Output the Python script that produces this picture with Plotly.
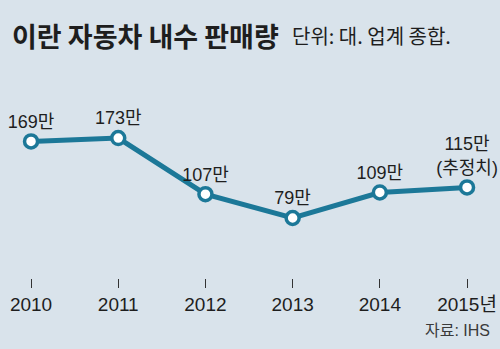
import plotly.graph_objects as go

# 이란 자동차 내수 판매량 (단위: 만 대)
years = [2010, 2011, 2012, 2013, 2014, 2015]
year_labels = ["2010", "2011", "2012", "2013", "2014", "2015년"]
sales = [169, 173, 107, 79, 109, 115]
value_labels = ["169만", "173만", "107만", "79만", "109만", "115만<br>(추정치)"]

BG = "#d9e3eb"
LINE = "#1c7898"
TEXT = "#1e1e1e"
FONT = "Liberation Sans, Noto Sans CJK KR, sans-serif"

fig = go.Figure()
fig.add_trace(go.Scatter(
    x=years,
    y=sales,
    mode="lines+markers+text",
    line=dict(color=LINE, width=5),
    marker=dict(size=13, color="white", line=dict(color=LINE, width=3.5)),
    text=value_labels,
    textposition="top center",
    textfont=dict(family=FONT, size=18, color=TEXT),
    cliponaxis=False,
    hoverinfo="skip",
))

fig.update_layout(
    width=500,
    height=349,
    margin=dict(l=0, r=0, t=60, b=71),
    paper_bgcolor=BG,
    plot_bgcolor=BG,
    showlegend=False,
    font=dict(family=FONT, color=TEXT),
    xaxis=dict(
        range=[2009.644, 2015.378],
        tickvals=years,
        ticktext=year_labels,
        ticks="outside",
        ticklen=9,
        tickwidth=1,
        tickcolor="#333333",
        showgrid=False,
        zeroline=False,
        showline=False,
        tickfont=dict(family=FONT, size=19, color=TEXT),
        fixedrange=True,
    ),
    yaxis=dict(
        range=[8.5, 264.7],
        visible=False,
        fixedrange=True,
    ),
    annotations=[
        dict(
            text="<b>이란 자동차 내수 판매량</b>",
            xref="paper", yref="paper", x=0, y=1,
            xanchor="left", yanchor="middle",
            xshift=10, yshift=25,
            showarrow=False,
            font=dict(family="Noto Sans CJK KR", size=27, color=TEXT),
        ),
        dict(
            text="단위: 대. 업계 종합.",
            xref="paper", yref="paper", x=0, y=1,
            xanchor="left", yanchor="middle",
            xshift=290, yshift=25,
            showarrow=False,
            font=dict(family="Noto Sans CJK KR", size=20, color=TEXT),
        ),
        dict(
            text="자료: IHS",
            xref="paper", yref="paper", x=1, y=0,
            xanchor="right", yanchor="middle",
            xshift=-8, yshift=-52,
            showarrow=False,
            font=dict(family=FONT, size=16, color="#3a3a3a"),
        ),
    ],
)

fig.write_html("out.html")
